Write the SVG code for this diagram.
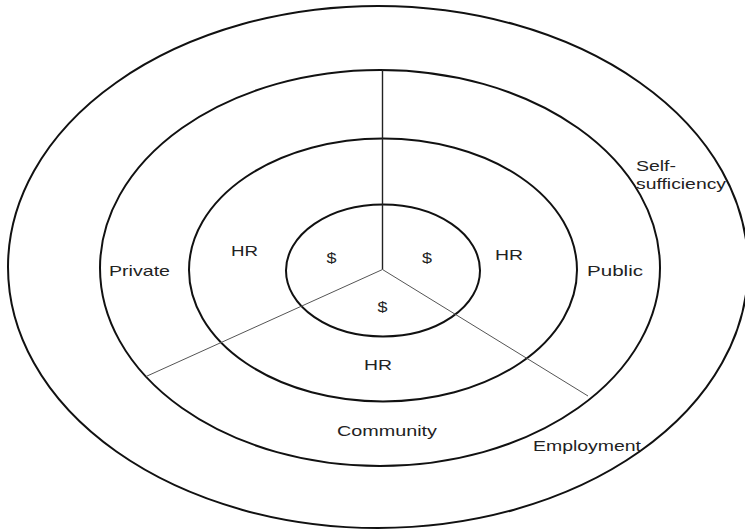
<svg xmlns="http://www.w3.org/2000/svg" width="745" height="531" viewBox="0 0 745 531">
<style>
.ring{fill:none;stroke:#111;stroke-width:2}
.lbl{font-family:"Liberation Sans",Arial,sans-serif;font-size:15px;fill:#222}
.div{stroke:#555;stroke-width:1;fill:none}
.vdiv{stroke:#222;stroke-width:1.4;fill:none}
</style>
<rect width="745" height="531" fill="#fff"/>
<g id="ring-self-sufficiency"><ellipse class="ring" cx="378" cy="267" rx="370" ry="261"/></g>
<g id="ring-employment"><ellipse class="ring" cx="380" cy="268" rx="280" ry="198"/></g>
<g id="ring-hr"><ellipse class="ring" cx="383" cy="270" rx="194" ry="131.5"/></g>
<g id="ring-money"><ellipse class="ring" cx="383" cy="270.5" rx="97" ry="66"/></g>
<g id="connectors">
<line class="vdiv" x1="382.5" y1="70" x2="382.5" y2="269.5"/>
<line class="div" x1="382.5" y1="269.5" x2="146" y2="376.5"/>
<line class="div" x1="382.5" y1="269.5" x2="588" y2="396"/>
</g>
<g id="labels">
<text class="lbl" x="109" y="276" textLength="61" lengthAdjust="spacingAndGlyphs">Private</text>
<text class="lbl" x="231" y="256" textLength="27" lengthAdjust="spacingAndGlyphs">HR</text>
<text class="lbl" x="326.5" y="263" textLength="10" lengthAdjust="spacingAndGlyphs">$</text>
<text class="lbl" x="422" y="263" textLength="10" lengthAdjust="spacingAndGlyphs">$</text>
<text class="lbl" x="495" y="260" textLength="28" lengthAdjust="spacingAndGlyphs">HR</text>
<text class="lbl" x="587" y="276" textLength="56" lengthAdjust="spacingAndGlyphs">Public</text>
<text class="lbl" x="377.5" y="312" textLength="10" lengthAdjust="spacingAndGlyphs">$</text>
<text class="lbl" x="364" y="370" textLength="28" lengthAdjust="spacingAndGlyphs">HR</text>
<text class="lbl" x="337" y="436" textLength="100" lengthAdjust="spacingAndGlyphs">Community</text>
<text class="lbl" x="533" y="451" textLength="108" lengthAdjust="spacingAndGlyphs">Employment</text>
<text class="lbl" x="636" y="171" textLength="40" lengthAdjust="spacingAndGlyphs">Self-</text>
<text class="lbl" x="636" y="189" textLength="90" lengthAdjust="spacingAndGlyphs">sufficiency</text>
</g>
</svg>
